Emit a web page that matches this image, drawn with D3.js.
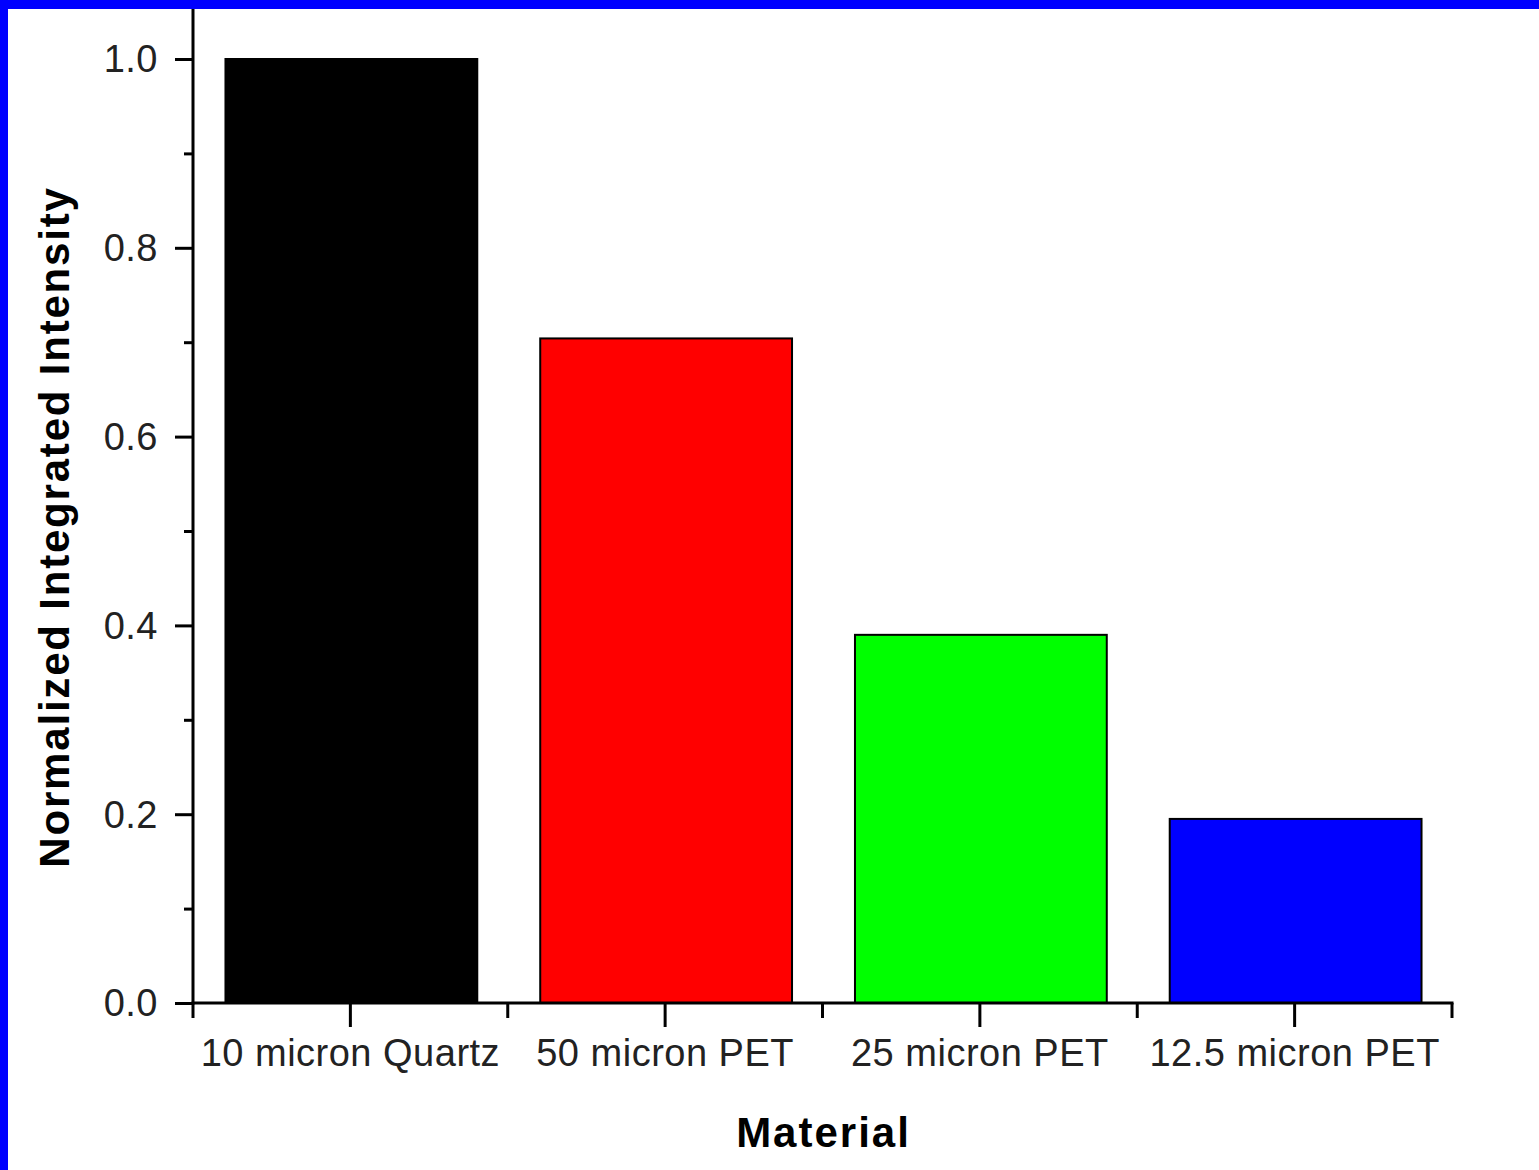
<!DOCTYPE html>
<html><head><meta charset="utf-8">
<script src="https://cdn.jsdelivr.net/npm/d3@7"></script>
<style>html,body{margin:0;padding:0;background:#fff;overflow:hidden}</style>
</head><body>
<svg id="c" width="1539" height="1170"></svg>
<script>
const categories = ["10 micron Quartz", "50 micron PET", "25 micron PET", "12.5 micron PET"];
const values = [1.0, 0.704, 0.390, 0.195];
const barColors = ["#000000", "#ff0000", "#00ff00", "#0000ff"];
const yTicks = [0.0, 0.2, 0.4, 0.6, 0.8, 1.0];
const yMinorTicks = [0.1, 0.3, 0.5, 0.7, 0.9];
const yTitle = "Normalized Integrated Intensity";
const xTitle = "Material";

const svg = d3.select("#c");
svg.append("rect").attr("width",1539).attr("height",1170).attr("fill","#fff");

const x0 = 193, x1 = 1452, yBase = 1003, yTop1 = 59;
const x = d3.scaleBand().domain(categories).range([x0, x1]).paddingInner(0.2).paddingOuter(0.1);
const y = d3.scaleLinear().domain([0, 1]).range([yBase, yTop1]);
const font = "'Liberation Sans', Arial, sans-serif";

// bars
svg.selectAll("rect.bar").data(categories).enter().append("rect")
  .attr("class","bar")
  .attr("x", d => x(d) + 1)
  .attr("width", x.bandwidth())
  .attr("y", (d,i) => y(values[i]))
  .attr("height", (d,i) => yBase - y(values[i]))
  .attr("fill", (d,i) => barColors[i])
  .attr("stroke", "#000").attr("stroke-width", 2);

// y axis
const yAxis = svg.append("g").attr("transform", `translate(${x0},0)`)
  .call(d3.axisLeft(y).tickValues(yTicks).tickSize(18).tickPadding(17).tickFormat(d3.format(".1f")));
yAxis.select(".domain").remove();
yAxis.selectAll(".tick line").attr("stroke","#000").attr("stroke-width",3);
yAxis.selectAll(".tick text").attr("font-family",font).attr("font-size",38).attr("fill","#222")
  .attr("letter-spacing","0.5px").attr("dy","0.34em");
const yMinor = svg.append("g").attr("transform", `translate(${x0},0)`)
  .call(d3.axisLeft(y).tickValues(yMinorTicks).tickSize(9).tickFormat(""));
yMinor.select(".domain").remove();
yMinor.selectAll(".tick line").attr("stroke","#000").attr("stroke-width",3);
svg.append("line").attr("x1",x0).attr("x2",x0).attr("y1",0).attr("y2",yBase+1.5)
  .attr("stroke","#000").attr("stroke-width",3);

// x axis
const xAxis = svg.append("g").attr("transform", `translate(0,${yBase})`)
  .call(d3.axisBottom(x).tickSize(24).tickPadding(12));
xAxis.select(".domain").remove();
xAxis.selectAll(".tick line").attr("stroke","#000").attr("stroke-width",3);
xAxis.selectAll(".tick text").attr("font-family",font).attr("font-size",38).attr("fill","#222")
  .attr("letter-spacing","0.5px");
const bounds = d3.range(categories.length + 1).map(i => x0 + i * x.step());
svg.append("g").selectAll("line").data(bounds).enter().append("line")
  .attr("x1", d => d).attr("x2", d => d).attr("y1", yBase).attr("y2", yBase + 15)
  .attr("stroke","#000").attr("stroke-width",3);
svg.append("line").attr("x1",x0-1.5).attr("x2",x1+1.5).attr("y1",yBase).attr("y2",yBase)
  .attr("stroke","#000").attr("stroke-width",3);

// titles
svg.append("text").attr("x", (x0+x1)/2 + 1).attr("y", 1147).attr("text-anchor","middle")
  .attr("font-family",font).attr("font-weight","bold").attr("font-size",42).attr("letter-spacing","2px")
  .attr("fill","#000").text(xTitle);
svg.append("text").attr("transform","translate(69,527) rotate(-90)").attr("text-anchor","middle")
  .attr("font-family",font).attr("font-weight","bold").attr("font-size",42).attr("letter-spacing","1.8px")
  .attr("fill","#000").text(yTitle);

// blue frame (top and left)
svg.append("rect").attr("x",0).attr("y",0).attr("width",1539).attr("height",9).attr("fill","#0000ff");
svg.append("rect").attr("x",0).attr("y",0).attr("width",8).attr("height",1170).attr("fill","#0000ff");
</script>
</body></html>
